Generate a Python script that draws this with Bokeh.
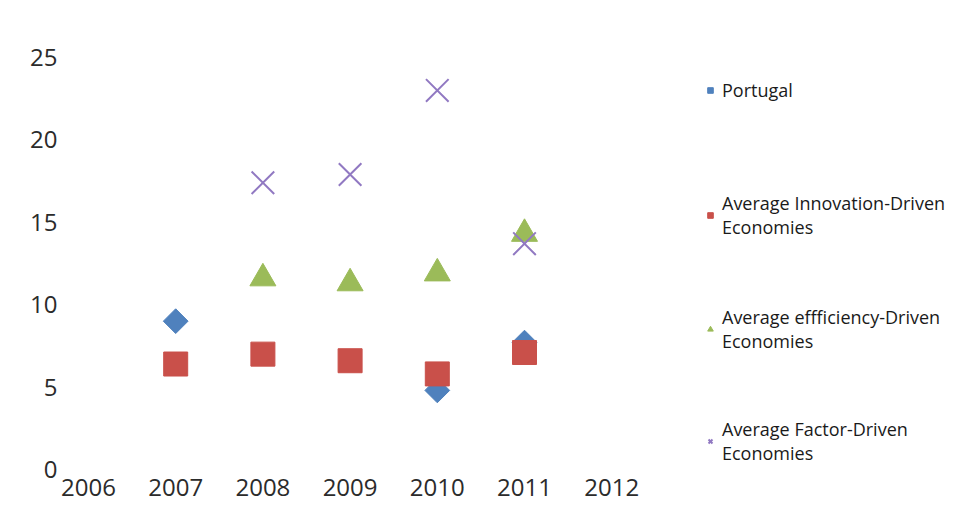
import numpy as np
from bokeh.plotting import figure
from bokeh.models import Legend, LegendItem, Range1d, FixedTicker
from bokeh.embed import file_html
from bokeh.resources import INLINE

# ---- data ----
years_portugal = [2007, 2010, 2011]
portugal = [9.0, 4.8, 7.7]

years_innov = [2007, 2008, 2009, 2010, 2011]
innovation = [6.4, 7.0, 6.6, 5.8, 7.1]

years_eff = [2008, 2009, 2010, 2011]
efficiency = [11.6, 11.3, 11.9, 14.3]

years_factor = [2008, 2009, 2010, 2011]
factor = [17.4, 17.9, 23.0, 13.7]

x_ticks = [2006, 2007, 2008, 2009, 2010, 2011, 2012]
y_ticks = [0, 5, 10, 15, 20, 25]

series_labels = [
    "Portugal",
    "Average Innovation-Driven\nEconomies",
    "Average effficiency-Driven\nEconomies",
    "Average Factor-Driven\nEconomies",
]

FONT = "Open Sans"

# frame: left 72, right 956, top 32, bottom 469 (canvas px)
PX_PER_YEAR = 87.2
x0 = 2006 - 16 / PX_PER_YEAR
x1 = x0 + 884 / PX_PER_YEAR
PX_PER_UNIT = (469 - 57) / 25
y1 = (469 - 32) / PX_PER_UNIT

p = figure(width=956, height=505, output_backend="svg", toolbar_location=None,
           x_range=Range1d(x0, x1), y_range=Range1d(0, y1),
           min_border_left=72, min_border_right=0, min_border_top=32,
           min_border_bottom=36)
p.outline_line_color = None
p.grid.visible = False
p.background_fill_color = "white"

for ax in (p.xaxis[0], p.yaxis[0]):
    ax.axis_line_color = None
    ax.major_tick_line_color = None
    ax.minor_tick_line_color = None
    ax.major_label_text_font = FONT
    ax.major_label_text_font_size = "24px"
    ax.major_label_text_color = "#2b2b2b"
p.xaxis.ticker = FixedTicker(ticks=x_ticks)
p.yaxis.ticker = FixedTicker(ticks=y_ticks)
p.xaxis.major_label_standoff = 3
p.yaxis.major_label_standoff = 9

r1 = p.scatter(years_portugal, portugal, marker="square", angle=np.pi / 4, size=17.5,
               fill_color="#4F81BD", line_color="#4F81BD")
r2 = p.scatter(years_innov, innovation, marker="square", size=24,
               fill_color="#C9504A", line_color="#C9504A")
r3 = p.scatter(years_eff, efficiency, marker="triangle", size=26,
               fill_color="#9BBB59", line_color="#9BBB59")
r4 = p.scatter(years_factor, factor, marker="x", size=32,
               line_color="#9179C2", line_width=2)

renderers = [r1, r2, r3, r4]
vys = [367, 230, 116, 4]
for lab, r, vy in zip(series_labels, renderers, vys):
    lg = Legend(items=[LegendItem(label=lab, renderers=[r])], location=(631, vy),
                padding=0, margin=0, border_line_alpha=0, background_fill_alpha=0,
                glyph_width=14, glyph_height=14, label_standoff=5,
                label_text_font=FONT, label_text_font_size="18px",
                label_text_color="#1a1a1a")
    p.add_layout(lg)

open("out.html", "w").write(file_html(p, INLINE))
